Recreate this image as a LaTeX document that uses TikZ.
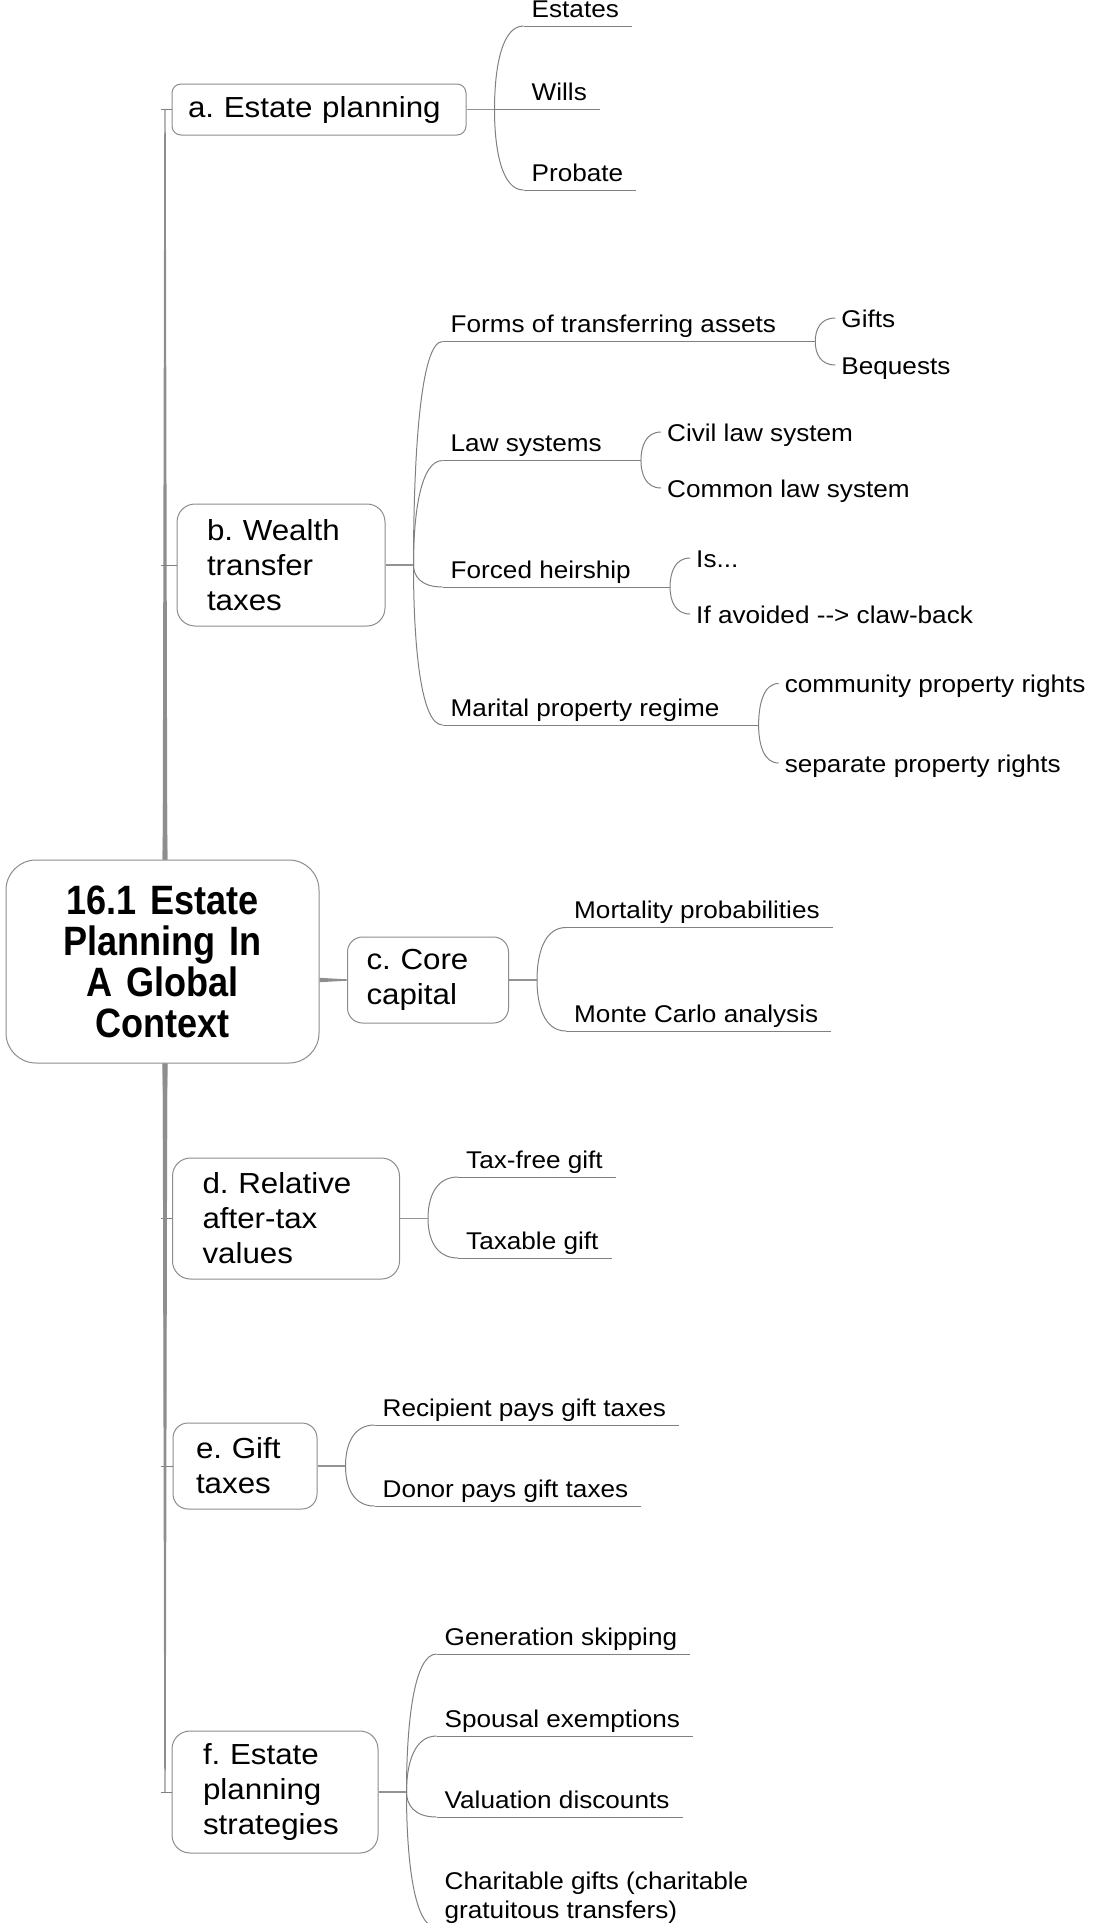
\documentclass[tikz,border=0pt]{standalone}
\usepackage{fontspec}
\setmainfont{Liberation Sans}[FakeStretch=1.08]
\newfontfamily\rootfont{Liberation Sans}[FakeStretch=0.88]
\usetikzlibrary{calc}
\definecolor{boxc}{HTML}{8C8C8C}
\definecolor{linec}{HTML}{808080}
\definecolor{trunkc}{HTML}{8E8E8E}
\frenchspacing
\begin{document}
\begin{tikzpicture}[x=1pt,y=-1pt,
  lonebox/.style={draw=boxc, line width=1pt, fill=white, align=left, inner ysep=0pt, font=\fontsize{29}{35}\selectfont},
  ltwo/.style={anchor=south west, inner xsep=8pt, inner ysep=8.5pt, text depth=0pt, font=\fontsize{24.2}{29}\selectfont},
  lthree/.style={anchor=west, inner xsep=6pt, inner ysep=0pt, text height=18pt, text depth=0pt, font=\fontsize{24.2}{29}\selectfont},
  ul/.style={draw=linec, line width=1pt},
  lc/.style={draw=linec, line width=1pt},
  lonec/.style={draw=linec!85, line width=1.4pt},
  tickln/.style={draw=linec, line width=1pt},
  trunkfill/.style={fill=trunkc},
  branch/.style={to path={.. controls ($(\tikztostart)!0.5!(\tikztostart |- \tikztotarget)$) and ($(\tikztostart |- \tikztotarget)!0.25!(\tikztotarget)$) .. (\tikztotarget)}}
]
\path[use as bounding box, clip] (0,0) rectangle (1094,1923);

% root
\node[draw=boxc, line width=1pt, fill=white, rounded corners=30pt, minimum width=313pt, minimum height=203pt,
      text width=290pt, inner xsep=11.5pt, align=center,
      font=\rootfont\bfseries\fontsize{41}{41}\selectfont] (root) at (162.5,961.5)
      {16.1 Estate\\Planning In\\A Global\\Context};

% level-1 boxes
\node[lonebox, rounded corners=9pt, minimum width=294pt, minimum height=51pt, text width=262pt, inner xsep=16pt] (a) at (319,109.5) {a. Estate planning\vphantom{pb}};
\node[lonebox, rounded corners=18pt, minimum width=208pt, minimum height=122pt, text width=148pt, inner xsep=30pt] (b) at (281,565) {b. Wealth\\transfer\\taxes};
\node[lonebox, rounded corners=15pt, minimum width=161pt, minimum height=86pt, text width=123pt, inner xsep=19pt] (c) at (428,980) {c. Core\\capital};
\node[lonebox, rounded corners=18pt, minimum width=227pt, minimum height=121pt, text width=167pt, inner xsep=30pt] (d) at (286,1218.5) {d. Relative\\after-tax\\values};
\node[lonebox, rounded corners=15pt, minimum width=144pt, minimum height=86pt, text width=98pt, inner xsep=23pt] (e) at (245,1466) {e. Gift\\taxes};
\node[lonebox, rounded corners=18pt, minimum width=206pt, minimum height=122pt, text width=144pt, inner xsep=31pt] (f) at (275,1792) {f. Estate\\planning\\strategies};

% trunk
\coordinate (tL) at (162.7,0);
\coordinate (tR) at (167.3,0);
\coordinate (tl) at (164.3,0);
\coordinate (tr) at (165.7,0);
\foreach \k in {a,b}{
  \fill[trunkfill] (tL |- root.north) -- (tR |- root.north) -- (tr |- \k.west) -- (tl |- \k.west) -- cycle;
  \draw[tickln] ([xshift=-3pt]tl |- \k.west) -- (\k.west);
}
\foreach \k in {d,e,f}{
  \fill[trunkfill] (tL |- root.south) -- (tR |- root.south) -- (tr |- \k.west) -- (tl |- \k.west) -- cycle;
  \draw[tickln] ([xshift=-3pt]tl |- \k.west) -- (\k.west);
}
\fill[trunkfill] ([yshift=2.2pt]root.east |- c.west) -- ([yshift=-2.2pt]root.east |- c.west) -- ([yshift=-0.7pt]c.west) -- ([yshift=0.7pt]c.west) -- cycle;

% forks
\foreach \k in {a,b,c,d,e,f}{
  \coordinate (f\k) at ([xshift=28pt]\k.east);
  \draw[lonec] (\k.east) -- (f\k);
}

% a children
\node[ltwo] (a1) at ($(fa)+(29,-83.5)$) {Estates};
\node[ltwo] (a2) at ($(fa)+(29,0)$) {Wills};
\node[ltwo] (a3) at ($(fa)+(29,80.5)$) {Probate};
% b children
\node[ltwo] (b1) at ($(fb)+(29,-223.5)$) {Forms of transferring assets};
\node[ltwo] (b2) at ($(fb)+(29,-104.5)$) {Law systems};
\node[ltwo] (b3) at ($(fb)+(29,22)$) {Forced heirship};
\node[ltwo] (b4) at ($(fb)+(29,160)$) {Marital property regime};
% c children
\node[ltwo] (c1) at ($(fc)+(29,-52.5)$) {Mortality probabilities};
\node[ltwo] (c2) at ($(fc)+(29,51)$) {Monte Carlo analysis};
% d children
\node[ltwo] (d1) at ($(fd)+(30,-41.5)$) {Tax-free gift};
\node[ltwo] (d2) at ($(fd)+(30,39.5)$) {Taxable gift};
% e children
\node[ltwo] (e1) at ($(fe)+(29,-41)$) {Recipient pays gift taxes};
\node[ltwo] (e2) at ($(fe)+(29,40)$) {Donor pays gift taxes};
% f children
\node[ltwo] (f1) at ($(ff)+(30,-138)$) {Generation skipping};
\node[ltwo] (f2) at ($(ff)+(30,-56)$) {Spousal exemptions};
\node[ltwo] (f3) at ($(ff)+(30,25)$) {Valuation discounts};
\node[ltwo, align=left] (f4) at ($(ff)+(30,135.5)$) {Charitable gifts (charitable\\gratuitous transfers)};

% connectors to level-2 and underlines
\foreach \p/\k in {a/a1,a/a2,a/a3,c/c1,c/c2,d/d1,d/d2,e/e1,e/e2,f/f1,f/f2,f/f3,f/f4}{
  \draw[lc] (f\p) to[branch] (\k.south west);
  \draw[ul] (\k.south west) -- ([xshift=5pt]\k.south east);
}
\foreach \k in {b1,b2,b3,b4}{
  \draw[lc] (fb) to[branch] (\k.south west);
  \coordinate (s\k) at ([xshift=31pt]\k.south east);
  \draw[ul] (\k.south west) -- (s\k);
}

% level-3
\node[lthree] (g1) at ($(sb1)+(20,-23.5)$) {Gifts};
\node[lthree] (g2) at ($(sb1)+(20,23.5)$) {Bequests};
\node[lthree] (h1) at ($(sb2)+(20,-28.5)$) {Civil law system};
\node[lthree] (h2) at ($(sb2)+(20,27.5)$) {Common law system};
\node[lthree] (i1) at ($(sb3)+(20,-29)$) {Is...};
\node[lthree] (i2) at ($(sb3)+(20,27)$) {If avoided {-}{-}> claw-back};
\node[lthree] (j1) at ($(sb4)+(20,-41.5)$) {community property rights};
\node[lthree] (j2) at ($(sb4)+(20,38)$) {separate property rights};
\foreach \p/\k in {b1/g1,b1/g2,b2/h1,b2/h2,b3/i1,b3/i2,b4/j1,b4/j2}{
  \draw[lc] (s\p) to[branch] (\k.west);
}
\end{tikzpicture}
\end{document}
